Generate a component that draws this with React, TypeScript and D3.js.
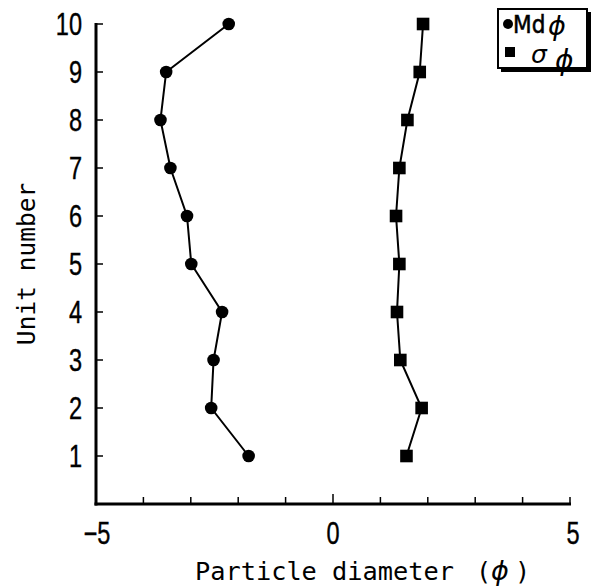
import React from "react";
import * as d3 from "d3";

const units = [1, 2, 3, 4, 5, 6, 7, 8, 9, 10];
const mdPhi = [-1.78, -2.57, -2.52, -2.34, -2.99, -3.08, -3.43, -3.64, -3.52, -2.2];
const sigmaPhi = [1.55, 1.87, 1.42, 1.35, 1.4, 1.33, 1.4, 1.57, 1.83, 1.9];
const xTickLabels = [-5, 0, 5];
const xMinorTicks = [-4, -3, -2, -1, 0, 1, 2, 3, 4, 5];
const yTicks = [1, 2, 3, 4, 5, 6, 7, 8, 9, 10];

const W = 591;
const H = 588;

export default function App() {
  const x = d3.scaleLinear().domain([-5, 5]).range([96, 570]);
  const y = d3.scaleLinear().domain([0, 10]).range([504, 24]);
  const numFont = "'Liberation Sans', Arial, sans-serif";
  const condFont = "'DejaVu Sans Condensed', 'Liberation Sans Narrow', sans-serif";
  const monoFont = "'DejaVu Sans Mono', 'Liberation Mono', monospace";
  const greekFont = "'DejaVu Sans', sans-serif";

  const line = d3
    .line<[number, number]>()
    .x((d) => x(d[0]))
    .y((d) => y(d[1]));

  const mdData: [number, number][] = units.map((u, i) => [mdPhi[i], u]);
  const sdData: [number, number][] = units.map((u, i) => [sigmaPhi[i], u]);

  return (
    <svg
      width={W}
      height={H}
      style={{ position: "absolute", left: 0, top: 0, background: "#fff" }}
    >
      <rect x={0} y={0} width={W} height={H} fill="#fff" />
      {/* axes */}
      <line x1={x(-5)} x2={x(-5)} y1={y(10) - 1} y2={y(0) + 1.5} stroke="#000" strokeWidth={3} />
      <line x1={x(-5) - 1.5} x2={x(5) + 1} y1={y(0)} y2={y(0)} stroke="#000" strokeWidth={3} />
      {/* y ticks */}
      {yTicks.map((t) => (
        <g key={"yt" + t}>
          <line x1={x(-5)} x2={x(-5) + 7} y1={y(t)} y2={y(t)} stroke="#000" strokeWidth={1.5} />
          <text
            transform={`translate(82, ${y(t) + 11}) scale(0.76, 1)`}
            textAnchor="end"
            fontFamily={numFont}
            fontSize={31}
            fill="#000"
            stroke="#000"
            strokeWidth={0.4}
          >
            {t}
          </text>
        </g>
      ))}
      {/* x ticks */}
      {xMinorTicks.map((t) => (
        <line
          key={"xt" + t}
          x1={x(t)}
          x2={x(t)}
          y1={y(0)}
          y2={y(0) - (t === 0 ? 10 : 7)}
          stroke="#000"
          strokeWidth={1.5}
        />
      ))}
      {xTickLabels.map((t) => (
        <text
          key={"xl" + t}
          transform={`translate(${x(t) + (t === 5 ? 3 : t === -5 ? 1 : 0)}, 544) scale(0.76, 1)`}
          textAnchor="middle"
          fontFamily={numFont}
          fontSize={31}
          fill="#000"
          stroke="#000"
          strokeWidth={0.4}
        >
          {t < 0 ? "\u2212" + Math.abs(t) : t}
        </text>
      ))}
      {/* titles */}
      <text y={580} fontFamily={monoFont} fontSize={25.3} fill="#000">
        <tspan x={195}>Particle diameter</tspan>
        <tspan x={476}>(</tspan>
        <tspan x={491} fontFamily={greekFont} fontStyle="italic" fontSize={27}>ϕ</tspan>
        <tspan x={515}>)</tspan>
      </text>
      <text
        transform={`translate(35, 264) rotate(-90)`}
        textAnchor="middle"
        fontFamily={monoFont}
        fontSize={24.5}
        fill="#000"
      >
        Unit number
      </text>
      {/* series lines */}
      <path d={line(mdData) || ""} fill="none" stroke="#000" strokeWidth={2} />
      <path d={line(sdData) || ""} fill="none" stroke="#000" strokeWidth={2} />
      {mdData.map((d, i) => (
        <circle key={"c" + i} cx={x(d[0])} cy={y(d[1])} r={6.3} fill="#000" />
      ))}
      {sdData.map((d, i) => (
        <rect
          key={"s" + i}
          x={x(d[0]) - 6.3}
          y={y(d[1]) - 6.3}
          width={12.6}
          height={12.6}
          fill="#000"
        />
      ))}
      {/* legend */}
      <rect x={501} y={12} width={90} height={60} fill="#000" />
      <rect x={498} y={9} width={89} height={59} fill="#fff" stroke="#000" strokeWidth={2} />
      <circle cx={508} cy={24} r={5} fill="#000" />
      <rect x={505} y={47} width={10} height={10} fill="#000" />
      <text
        x={513}
        y={33}
        fontFamily={condFont}
        fontSize={24}
        fill="#000"
        stroke="#000"
        strokeWidth={0.5}
      >
        Md
      </text>
      <text x={548} y={35} fontFamily={greekFont} fontStyle="italic" fontSize={27} fill="#000">
        ϕ
      </text>
      <text x={531} y={63} fontFamily={greekFont} fontStyle="italic" fontSize={25} fill="#000">
        σ
      </text>
      <text x={555} y={70} fontFamily={greekFont} fontStyle="italic" fontSize={28} fill="#000">
        ϕ
      </text>
    </svg>
  );
}
